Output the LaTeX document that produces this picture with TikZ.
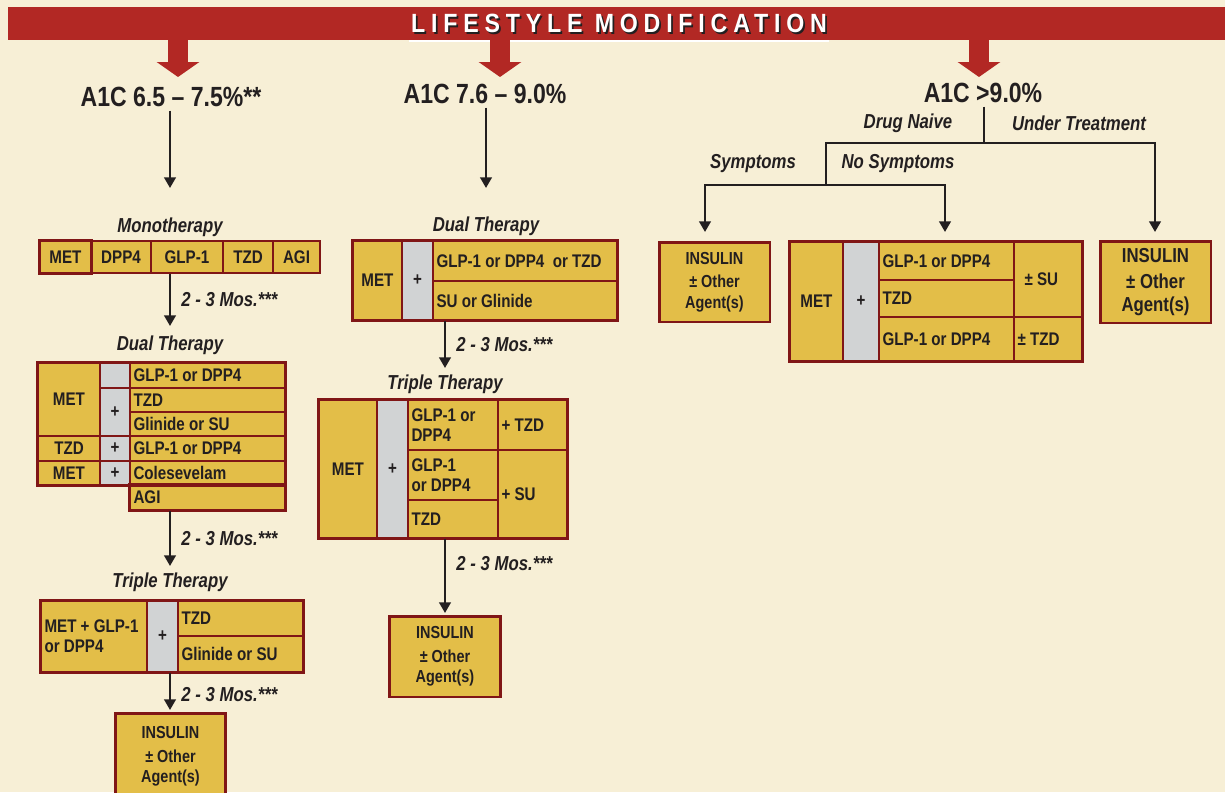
\documentclass[tikz,border=0pt]{standalone}
\usepackage{fontspec}
\setmainfont{Liberation Sans}[FakeStretch=0.83]
\newfontfamily\banfont{Liberation Sans}[FakeStretch=0.88,LetterSpace=22]
\definecolor{bgcream}{RGB}{247,239,214}
\definecolor{banred}{RGB}{178,40,36}
\definecolor{cellyel}{RGB}{227,190,72}
\definecolor{cellgrey}{RGB}{209,211,212}
\definecolor{bordred}{RGB}{128,22,22}
\definecolor{inkdark}{RGB}{35,31,32}
\usetikzlibrary{arrows.meta,positioning,calc}

% table cell: [style]{name}{x1}{y1}{x2}{y2}{text}
\newcommand{\tcell}[7][tc]{%
  \pgfmathsetlengthmacro{\cellw}{(#5-#3)*0.02cm}%
  \pgfmathsetlengthmacro{\celltw}{(#5-#3)*0.02cm-4pt}%
  \pgfmathsetlengthmacro{\cellh}{(#6-#4)*0.02cm}%
  \node[cell, #1, minimum width=\cellw, minimum height=\cellh, text width=\celltw]
    (#2) at ({(#3+#5)/2},{(#4+#6)/2}) {#7};}

\begin{document}
\begin{tikzpicture}[x=0.02cm, y=-0.02cm,
  banner/.style={rectangle, fill=banred, minimum width=24.44cm,
                 minimum height=0.66cm, inner sep=0pt},
  bantext/.style={font=\banfont\fontsize{15}{16}\selectfont\bfseries,
                  text=white, inner sep=1pt},
  a1cbox/.style={font=\fontsize{15.8}{17}\selectfont\bfseries, text=inkdark, inner sep=2pt},
  lbl/.style={font=\fontsize{11.5}{13}\selectfont\bfseries\itshape, text=inkdark, inner sep=1pt},
  cell/.style={rectangle, draw=bordred, line width=0.6pt, fill=cellyel,
               inner xsep=2pt, inner ysep=0pt,
               font=\fontsize{10.4}{11.5}\selectfont\bfseries, text=inkdark},
  tc/.style={align=flush center},
  tl/.style={align=flush left},
  gc/.style={align=flush center, fill=cellgrey},
  thickrim/.style={draw=bordred, line width=1.7pt},
  insbox/.style={rectangle, draw=bordred, line width=1.7pt, fill=cellyel, align=center,
                 font=\fontsize{9.9}{11.5}\selectfont\bfseries, text=inkdark},
  arr/.style={-{Triangle[length=6pt,width=6.5pt]}, line width=1.4pt, draw=inkdark},
  conn/.style={line width=1.4pt, draw=inkdark},
  bigarr/.style={-{Triangle[length=0.3cm,width=0.84cm]}, line width=0.4cm, draw=banred}
]
% Background
\fill[bgcream] (0,0) rectangle (1225,792);
\useasboundingbox (0,0) rectangle (1225,792);

% Banner
\node[banner] (banner) at (619,23.5) {};
\node[bantext, text=inkdark] (banshade) at ([shift={(0.035cm,-0.035cm)}]banner.center)
  {LIFESTYLE MODIFICATION};
\node[bantext] (bantitle) at (banner.center) {LIFESTYLE MODIFICATION};
\draw[white, line width=0.04cm] ([yshift=-0.02cm]bantitle.west |- banner.south)
  -- ([yshift=-0.02cm]bantitle.east |- banner.south);

% Red arrows
\coordinate (ltop) at (178,77);
\coordinate (mtop) at (500,77);
\coordinate (rtop) at (979,77);
\draw[bigarr] (ltop |- banner.south) -- (ltop);
\draw[bigarr] (mtop |- banner.south) -- (mtop);
\draw[bigarr] (rtop |- banner.south) -- (rtop);

% A1C headings
\node[a1cbox] (a1cl) at (171,97) {A1C 6.5 – 7.5\%**};
\node[a1cbox] (a1cm) at (485,94) {A1C 7.6 – 9.0\%};
\node[a1cbox] (a1cr) at (983,93) {A1C >9.0\%};

% ---- Left column: 6.5 - 7.5
\coordinate (l1) at (170,188);
\draw[arr] (l1 |- a1cl.south) -- (l1);

\node[lbl] (monolbl) at (170,227) {Monotherapy};
\tcell{mmet}{40}{241}{91}{273}{MET}
\tcell{mdpp}{91}{241}{151}{273}{DPP4}
\tcell{mglp}{151}{241}{223}{273}{GLP-1}
\tcell{mtzd}{223}{241}{273}{273}{TZD}
\tcell{magi}{273}{241}{320}{273}{AGI}
\draw[thickrim] (mmet.north west) rectangle (mmet.south east);

\coordinate (l2) at (170,326);
\draw[arr] (l2 |- mglp.south) -- node[lbl, anchor=west, xshift=0.17cm] (lmos1) {2 - 3 Mos.***} (l2);

\node[lbl] (ldlbl) at (170,345) {Dual Therapy};
\tcell{ldmet}{38}{363}{100}{436}{MET}
\tcell[gc]{ldp0}{100}{363}{130}{388}{}
\tcell[gc]{ldp1}{100}{388}{130}{436}{+}
\tcell[tl]{ldglp}{130}{363}{285}{388}{GLP-1 or DPP4}
\tcell[tl]{ldtzd}{130}{388}{285}{412}{TZD}
\tcell[tl]{ldgli}{130}{412}{285}{436}{Glinide or SU}
\tcell{ldtzdb}{38}{436}{100}{461}{TZD}
\tcell[gc]{ldp2}{100}{436}{130}{461}{+}
\tcell[tl]{ldglpb}{130}{436}{285}{461}{GLP-1 or DPP4}
\tcell{ldmetb}{38}{461}{100}{485}{MET}
\tcell[gc]{ldp3}{100}{461}{130}{485}{+}
\tcell[tl]{ldcol}{130}{461}{285}{485}{Colesevelam}
\tcell[tl]{ldagi}{130}{485}{285}{510}{AGI}
\draw[thickrim] (ldmet.north west) rectangle (ldcol.south east);
\draw[thickrim] (ldagi.north west) rectangle (ldagi.south east);

\coordinate (l3) at (170,566);
\draw[arr] (l3 |- ldagi.south) -- node[lbl, anchor=west, xshift=0.17cm] (lmos2) {2 - 3 Mos.***} (l3);

\node[lbl] (ltlbl) at (170,582) {Triple Therapy};
\tcell[tl]{ltmet}{41}{601}{147}{672}{MET~+~GLP-1\\or DPP4}
\tcell[gc]{ltplus}{147}{601}{178}{672}{+}
\tcell[tl]{lttzd}{178}{601}{303}{636}{TZD}
\tcell[tl]{ltgli}{178}{636}{303}{672}{Glinide or SU}
\draw[thickrim] (ltmet.north west) rectangle (ltgli.south east);

\coordinate (l4) at (170,710);
\draw[arr] (l4 |- ltplus.south) -- node[lbl, anchor=west, xshift=0.17cm, pos=0.6] (lmos3) {2 - 3 Mos.***} (l4);

\node[insbox, minimum width=2.22cm, minimum height=1.74cm] (lins) at (170.5,756.5)
  {INSULIN\\[2pt]± Other\\Agent(s)};

% ---- Middle column: 7.6 - 9.0
\coordinate (m1) at (486,188);
\draw[arr] (m1 |- a1cm.south) -- (m1);

\node[lbl] (mdlbl) at (486,226) {Dual Therapy};
\tcell{mdmet}{353}{241}{402}{320}{MET}
\tcell[gc]{mdplus}{402}{241}{433}{320}{+}
\tcell[tl]{mdglp}{433}{241}{617}{281}{GLP-1 or DPP4\ \ or TZD}
\tcell[tl]{mdsu}{433}{281}{617}{320}{SU or Glinide}
\draw[thickrim] (mdmet.north west) rectangle (mdsu.south east);

\coordinate (m2) at (445,368);
\draw[arr] (m2 |- mdsu.south) -- node[lbl, anchor=west, xshift=0.17cm] (mmos1) {2 - 3 Mos.***} (m2);

\node[lbl] (mtlbl) at (445,384) {Triple Therapy};
\tcell{mtmet}{319}{400}{377}{538}{MET}
\tcell[gc]{mtplus}{377}{400}{408}{538}{+}
\tcell[tl]{mtglpa}{408}{400}{498}{450}{GLP-1 or\\DPP4}
\tcell[tl]{mtglpb}{408}{450}{498}{500}{GLP-1\\or DPP4}
\tcell[tl]{mttzd}{408}{500}{498}{538}{TZD}
\tcell[tl]{mtptzd}{498}{400}{567}{450}{+ TZD}
\tcell[tl]{mtpsu}{498}{450}{567}{538}{+ SU}
\draw[thickrim] (mtmet.north west) rectangle (mtpsu.south east);

\coordinate (m3) at (445,613);
\draw[arr] (m3 |- mttzd.south) -- node[lbl, anchor=west, xshift=0.17cm, pos=0.33] (mmos2) {2 - 3 Mos.***} (m3);

\node[insbox, minimum width=2.24cm, minimum height=1.62cm] (mins) at (445,656.5)
  {INSULIN\\[2pt]± Other\\Agent(s)};

% ---- Right column: > 9.0
\coordinate (rsplit) at (984,143);
\coordinate (sbranch) at (826,185);
\coordinate (symtip) at (705,232);
\coordinate (nosymtip) at (945,232);
\coordinate (treattip) at (1155,232);
\draw[conn] (a1cr.south -| rsplit) -- (rsplit);
\draw[arr] (rsplit) -| (treattip);
\draw[conn] (rsplit) -| (sbranch);
\draw[arr] (sbranch) -| (symtip);
\draw[arr] (sbranch) -| (nosymtip);

\node[lbl] (naivelbl) at (908,123) {Drug Naive};
\node[lbl] (treatlbl) at (1079,123) {Under Treatment};
\node[lbl] (symlbl) at (753,164) {Symptoms};
\node[lbl] (nosymlbl) at (898,164) {No Symptoms};

\node[insbox, minimum width=2.22cm, minimum height=1.6cm] (sins) at (714.5,282)
  {INSULIN\\[2pt]± Other\\Agent(s)};

\tcell{rtmet}{790}{242}{843}{361}{MET}
\tcell[gc]{rtplus}{843}{242}{879}{361}{+}
\tcell[tl]{rtglpa}{879}{242}{1014}{280}{GLP-1 or DPP4}
\tcell[tl]{rttzd}{879}{280}{1014}{317}{TZD}
\tcell[tl]{rtglpb}{879}{317}{1014}{361}{GLP-1 or DPP4}
\tcell[tl]{rtsu}{1014}{242}{1082}{317}{\hspace{4pt}± SU}
\tcell[tl]{rtptzd}{1014}{317}{1082}{361}{± TZD}
\draw[thickrim] (rtmet.north west) rectangle (rtptzd.south east);

\node[insbox, minimum width=2.22cm, minimum height=1.64cm,
      font=\fontsize{11.5}{13}\selectfont\bfseries] (tins) at (1155.5,282)
  {INSULIN\\[2pt]± Other\\Agent(s)};
\end{tikzpicture}
\end{document}
